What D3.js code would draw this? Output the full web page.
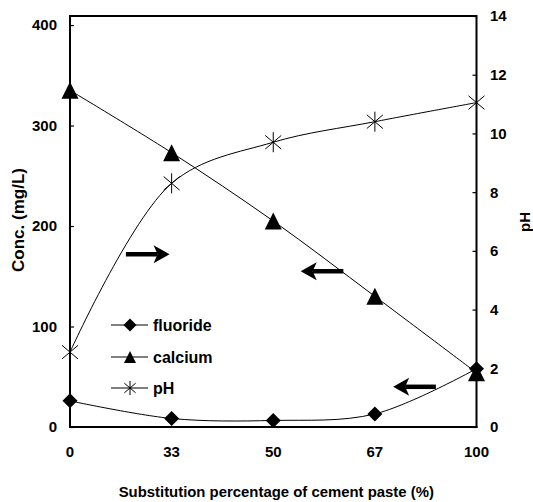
<!DOCTYPE html>
<html>
<head>
<meta charset="utf-8">
<script src="https://cdn.jsdelivr.net/npm/d3@7"></script>
<style>
  html, body { margin: 0; padding: 0; background: #fff; }
  svg { display: block; }
  text { font-family: "Liberation Sans", Arial, sans-serif; font-weight: bold; fill: #000; }
</style>
</head>
<body>
<svg id="chart" width="533" height="502"></svg>
<script>
// Substitution percentage of cement paste (x categories)
const categories = ["0", "33", "50", "67", "100"];

// Concentrations (mg/L), left axis
const fluoride = [26, 8.5, 6.5, 13, 58];
const calcium  = [335, 273, 205, 130, 54];

// pH, right axis
const pH = [2.55, 8.3, 9.7, 10.4, 11.05];

// Tick labels
const concTicks = [0, 100, 200, 300, 400];
const pHTicks = [0, 2, 4, 6, 8, 10, 12, 14];

// Direction arrows: which axis each curve belongs to (x in category index, y in mg/L)
const arrows = [
  { x0: 0.55, x1: 0.98, y: 172, dir: "right" },
  { x0: 2.27, x1: 2.69, y: 155, dir: "left" },
  { x0: 3.18, x1: 3.60, y: 40,  dir: "left" }
];

const svg = d3.select("#chart");
const plot = { left: 70, right: 476.5, top: 16, bottom: 427 };

const x = d3.scalePoint().domain(categories).range([plot.left, plot.right]).padding(0);
const xIdx = d3.scaleLinear().domain([0, categories.length - 1]).range([plot.left, plot.right]);
const yConc = d3.scaleLinear().domain([0, 409]).range([plot.bottom, plot.top]);
const yPH = d3.scaleLinear().domain([0, 14]).range([plot.bottom, plot.top]);

// Frame: top border line
svg.append("line")
  .attr("x1", plot.left).attr("x2", plot.right)
  .attr("y1", plot.top).attr("y2", plot.top)
  .attr("stroke", "#000").attr("stroke-width", 2);

// Left axis (ticks point inward)
const leftAxis = svg.append("g")
  .attr("transform", `translate(${plot.left},0)`)
  .call(d3.axisRight(yConc).tickValues(concTicks).tickSize(4).tickFormat(d3.format("d")));
leftAxis.select(".domain").remove();
leftAxis.selectAll("text").remove();
leftAxis.selectAll(".tick line").attr("stroke-width", 1.2);
svg.append("line")
  .attr("x1", plot.left).attr("x2", plot.left)
  .attr("y1", plot.top - 1).attr("y2", plot.bottom + 1)
  .attr("stroke", "#000").attr("stroke-width", 2);
svg.append("g").selectAll("text").data(concTicks).join("text")
  .attr("x", 57).attr("y", d => yConc(d))
  .attr("dy", "0.36em").attr("text-anchor", "end")
  .attr("font-size", 15).text(d => d);

// Right axis (ticks point inward)
const rightAxis = svg.append("g")
  .attr("transform", `translate(${plot.right},0)`)
  .call(d3.axisLeft(yPH).tickValues(pHTicks).tickSize(4));
rightAxis.select(".domain").remove();
rightAxis.selectAll("text").remove();
rightAxis.selectAll(".tick line").attr("stroke-width", 1.2);
svg.append("line")
  .attr("x1", plot.right).attr("x2", plot.right)
  .attr("y1", plot.top - 1).attr("y2", plot.bottom + 1)
  .attr("stroke", "#000").attr("stroke-width", 2);
svg.append("g").selectAll("text").data(pHTicks).join("text")
  .attr("x", 490).attr("y", d => yPH(d))
  .attr("dy", "0.36em").attr("text-anchor", "start")
  .attr("font-size", 15).text(d => d);

// Bottom axis
svg.append("line")
  .attr("x1", plot.left - 1).attr("x2", plot.right + 1)
  .attr("y1", plot.bottom).attr("y2", plot.bottom)
  .attr("stroke", "#000").attr("stroke-width", 2);
svg.append("g").selectAll("text").data(categories).join("text")
  .attr("x", d => x(d)).attr("y", 452)
  .attr("dy", "0.36em").attr("text-anchor", "middle")
  .attr("font-size", 15).text(d => d);

// Axis titles
svg.append("text")
  .attr("transform", `translate(18,220) rotate(-90)`)
  .attr("text-anchor", "middle").attr("dy", "0.36em")
  .attr("font-size", 17).text("Conc. (mg/L)");
svg.append("text")
  .attr("transform", `translate(525,222) rotate(-90)`)
  .attr("text-anchor", "middle").attr("dy", "0.36em")
  .attr("font-size", 15).text("pH");
svg.append("text")
  .attr("x", (plot.left + plot.right) / 2 + 3).attr("y", 492)
  .attr("text-anchor", "middle").attr("dy", "0.36em")
  .attr("font-size", 14.9).text("Substitution percentage of cement paste (%)");

// Series lines (smoothed)
const curve = d3.curveCatmullRom.alpha(0.5);
const lineConc = d3.line().x((d, i) => x(categories[i])).y(d => yConc(d)).curve(curve);
const linePH = d3.line().x((d, i) => x(categories[i])).y(d => yPH(d)).curve(curve);

const lines = svg.append("g").attr("fill", "none").attr("stroke", "#000").attr("stroke-width", 1);
lines.append("path").attr("d", lineConc(fluoride));
lines.append("path").attr("d", lineConc(calcium));
lines.append("path").attr("d", linePH(pH));

// Marker shapes
function diamond(g, cx, cy, r) {
  g.append("path")
    .attr("d", `M${cx},${cy - r}L${cx + r},${cy}L${cx},${cy + r}L${cx - r},${cy}Z`)
    .attr("fill", "#000");
}
function triangle(g, cx, cy, s) {
  const h = s;
  g.append("path")
    .attr("d", `M${cx},${cy - h / 2}L${cx + s / 2},${cy + h / 2}L${cx - s / 2},${cy + h / 2}Z`)
    .attr("fill", "#000");
}
function star(g, cx, cy, r) {
  const d = r * 0.8;
  g.append("path")
    .attr("d", `M${cx},${cy - r}V${cy + r}M${cx - d},${cy - d * 0.85}L${cx + d},${cy + d * 0.85}M${cx - d},${cy + d * 0.85}L${cx + d},${cy - d * 0.85}`)
    .attr("stroke", "#000").attr("stroke-width", 1).attr("fill", "none");
}

const markers = svg.append("g");
pH.forEach((v, i) => star(markers, x(categories[i]), yPH(v), 10));
calcium.forEach((v, i) => triangle(markers, x(categories[i]), yConc(v), 17));
fluoride.forEach((v, i) => diamond(markers, x(categories[i]), yConc(v), 7.5));

// Direction arrows
const arrowG = svg.append("g");
arrows.forEach(a => {
  const xa = xIdx(a.x0), xb = xIdx(a.x1), yy = yConc(a.y);
  const tip = a.dir === "right" ? xb : xa;
  const tail = a.dir === "right" ? xa : xb;
  const s = a.dir === "right" ? -1 : 1;
  const headLen = 16, headHalf = 9, notch = 12;
  arrowG.append("line")
    .attr("x1", tip + s * notch).attr("x2", tail)
    .attr("y1", yy).attr("y2", yy)
    .attr("stroke", "#000").attr("stroke-width", 4.5);
  arrowG.append("path")
    .attr("d", `M${tip},${yy}L${tip + s * headLen},${yy - headHalf}L${tip + s * notch},${yy}L${tip + s * headLen},${yy + headHalf}Z`)
    .attr("fill", "#000");
});

// Legend
const legendItems = [
  { name: "fluoride", y: 325, draw: (g, cx, cy) => diamond(g, cx, cy, 6.5) },
  { name: "calcium",  y: 357, draw: (g, cx, cy) => triangle(g, cx, cy, 12) },
  { name: "pH",       y: 388, draw: (g, cx, cy) => star(g, cx, cy, 7) }
];
const legend = svg.append("g");
legendItems.forEach(item => {
  legend.append("line")
    .attr("x1", 111).attr("x2", 148)
    .attr("y1", item.y).attr("y2", item.y)
    .attr("stroke", "#000").attr("stroke-width", 1);
  item.draw(legend, 130, item.y);
  legend.append("text")
    .attr("x", 153).attr("y", item.y).attr("dy", "0.36em")
    .attr("font-size", 16).text(item.name);
});
</script>
</body>
</html>
